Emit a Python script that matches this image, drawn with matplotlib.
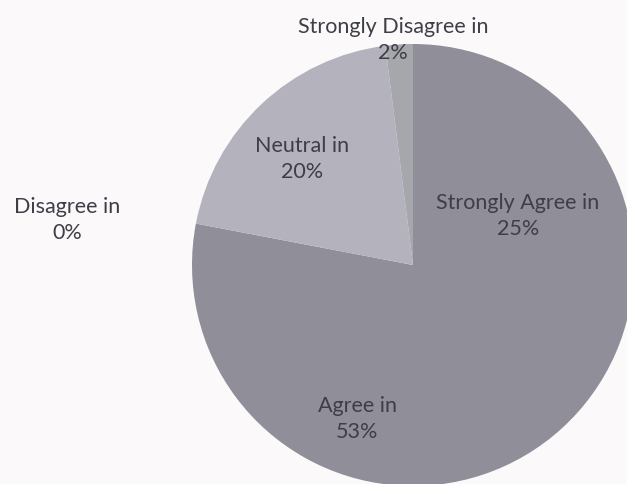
import matplotlib.pyplot as plt

# survey answers, in the order they are drawn (clockwise from 12 o'clock)
categories = ['Strongly Agree', 'Agree', 'Disagree', 'Neutral', 'Strongly Disagree']
percents = [25, 53, 0, 20, 2]

colors = ['#8f8e99', '#8f8e99', '#8f8e99', '#b4b2bc', '#a6a7ac']
# where Excel put each label (x, y in pie radii)
label_pos = [(0.475, 0.222), (-0.253, -0.697), (-1.566, 0.204),
             (-0.502, 0.480), (-0.090, 1.018)]

bg = '#fcf9fb'
fig = plt.figure(figsize=(6.27, 4.84), dpi=100, facecolor=bg)
ax = fig.add_axes([0, 0, 1, 1])
ax.set_facecolor(bg)

ax.pie(percents, colors=colors, startangle=90, counterclock=False,
       radius=1.0, wedgeprops=dict(linewidth=0))

for name, p, (x, y) in zip(categories, percents, label_pos):
    ax.text(x, y, '%s in\n%d%%' % (name, p), ha='center', va='center',
            fontsize=15.5, family='Lato', color='#3e3e46', linespacing=1.4)

ax.set_xlim(-413 / 221, 214 / 221)
ax.set_ylim(-219 / 221, 265 / 221)
ax.set_aspect('equal')
ax.axis('off')

fig.savefig('out.png', dpi=100, facecolor=bg)
